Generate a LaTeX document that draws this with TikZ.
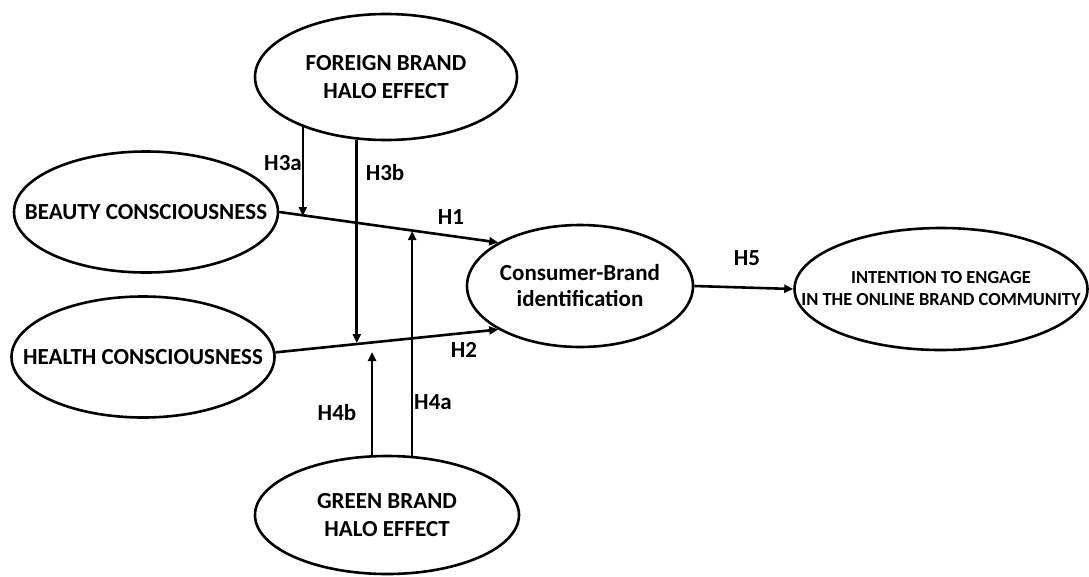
\documentclass[tikz,border=0pt]{standalone}
\usepackage{fontspec}
\setmainfont{Carlito}
\usetikzlibrary{shapes.geometric,arrows.meta}
\tikzstyle{construct} = [draw, ellipse, line width=2.6pt, fill=white, inner xsep=-45pt, inner ysep=0pt, align=center, font=\fontsize{23}{28}\selectfont\bfseries]
\tikzstyle{hyp} = [line width=2.6pt, -{Triangle[length=9pt,width=8pt]}]
\tikzstyle{hlabel} = [inner sep=0pt, font=\fontsize{23}{28}\selectfont\bfseries]

\begin{document}
\begin{tikzpicture}[x=1pt, y=-1pt]
            \useasboundingbox (0,0) rectangle (1089,576);

            \node[construct, minimum width=262pt, minimum height=126pt] (foreign) at (386,  77) {FOREIGN BRAND\\HALO EFFECT};
            \node[construct, minimum width=264pt, minimum height=121pt] (beauty)  at (146, 212) {BEAUTY CONSCIOUSNESS};
            \node[construct, minimum width=263pt, minimum height=121pt] (health)  at (143, 357) {HEALTH CONSCIOUSNESS};
            \node[construct, minimum width=226pt, minimum height=122pt, font=\fontsize{23}{26}\selectfont\bfseries] (cbi) at (580, 286) {Consumer-Brand\\identification};
            \node[construct, minimum width=293pt, minimum height=122pt, font=\fontsize{18.4}{22}\selectfont\bfseries] (intent) at (941, 289) {INTENTION TO ENGAGE\\IN THE ONLINE BRAND COMMUNITY};
            \node[construct, minimum width=264pt, minimum height=118pt] (green)   at (387, 515) {GREEN BRAND\\HALO EFFECT};

            % points on the H1 / H2 paths
            \coordinate (j3a) at (305, 216);
            \coordinate (j4a) at (412, 231);
            \coordinate (j3b) at (357, 343);
            \coordinate (j4b) at (372, 352);

            \draw[hyp] (beauty.east) -- (cbi.152);
            \draw[hyp] (health.2) -- (cbi.208);
            \draw[hyp] (cbi.east) -- (intent.west);
            \draw[hyp] (foreign.211) -- (foreign.211 |- j3a);
            \draw[hyp] (foreign.245) -- (foreign.245 |- j3b);
            \draw[hyp] (green.67) -- (green.67 |- j4a);
            \draw[hyp] (green.104) -- (green.104 |- j4b);

            \node[hlabel] (l3a) at (283, 163) {H3a};
            \node[hlabel] (l3b) at (385, 173) {H3b};
            \node[hlabel] (l1)  at (451, 217) {H1};
            \node[hlabel] (l2)  at (464, 350) {H2};
            \node[hlabel] (l4b) at (337, 413) {H4b};
            \node[hlabel] (l4a) at (433, 402) {H4a};
            \node[hlabel] (l5)  at (747, 258) {H5};
        \end{tikzpicture}
\end{document}
